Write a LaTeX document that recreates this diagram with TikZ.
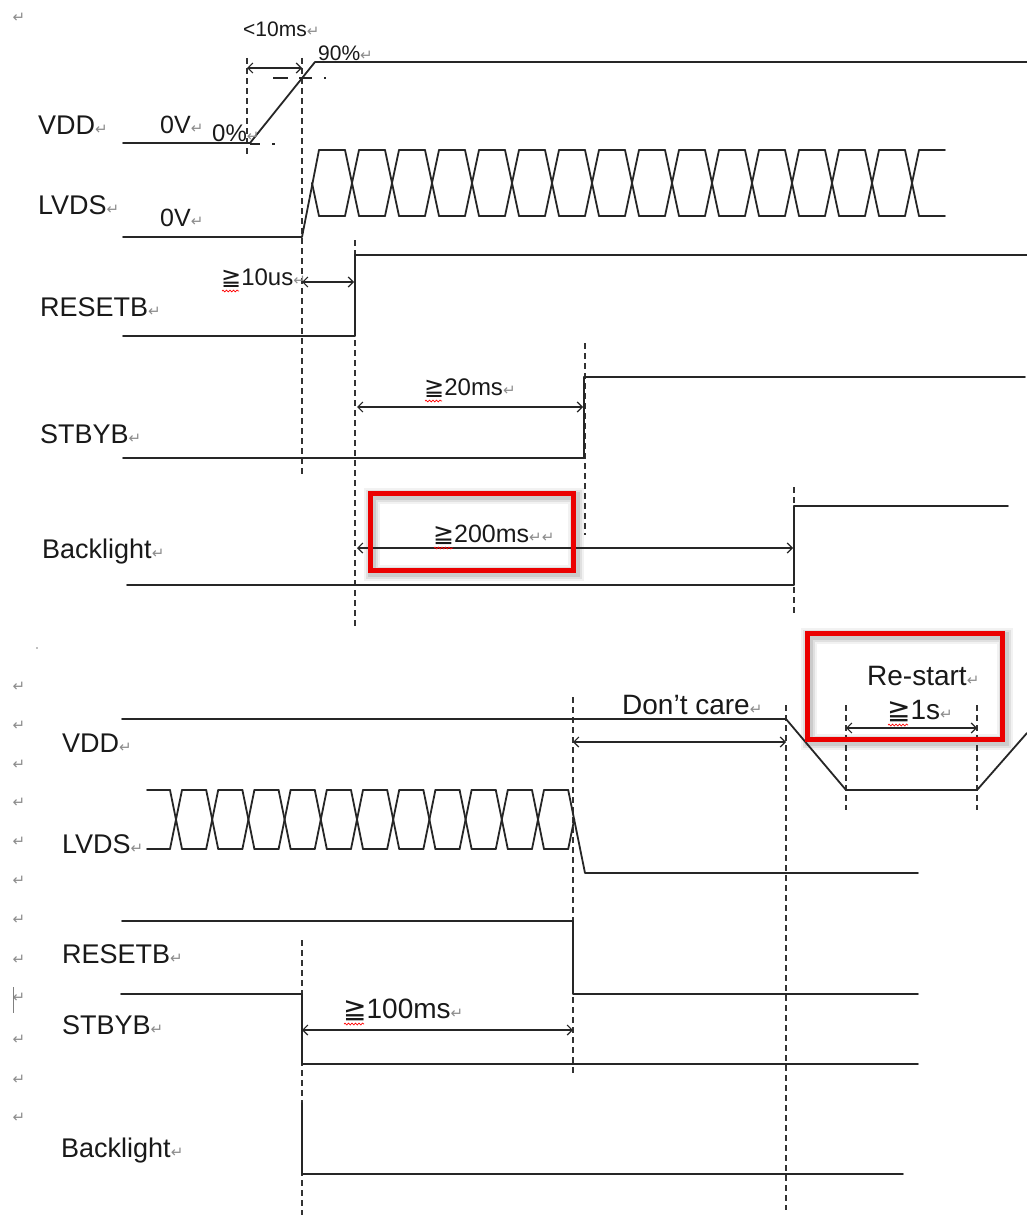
\documentclass[tikz,border=0pt]{standalone}
\usepackage{fontspec}
\setmainfont{Liberation Sans}
\newfontfamily\dvs{DejaVu Sans}
\usetikzlibrary{arrows.meta,decorations.pathmorphing,calc}
\newcommand\retm{{\dvs\fontsize{15}{15}\selectfont\color{black!45}↵}}
\newcommand\gesym{{\dvs ≧}}
\tikzset{
  sig/.style={line width=1.8pt, draw=black!85, line cap=round, line join=round},
  guide/.style={line width=1.4pt, draw=black!80, dash pattern=on 6pt off 4pt},
  dimarrow/.style={line width=1.2pt, draw=black!85, <->, >={Straight Barb[length=5pt,width=10pt,line width=1.2pt]}},
  lbl/.style={anchor=base west, inner sep=0pt, text=black!90, font=\fontsize{27}{30}\selectfont},
  sm/.style={anchor=base west, inner sep=0pt, text=black!90, font=\fontsize{21}{24}\selectfont},
  md/.style={anchor=base west, inner sep=0pt, text=black!90, font=\fontsize{24}{27}\selectfont},
  lg/.style={anchor=base west, inner sep=0pt, text=black!90, font=\fontsize{25}{28}\selectfont},
  xl/.style={anchor=base west, inner sep=0pt, text=black!90, font=\fontsize{28}{31}\selectfont},
  retmark/.style={inner sep=0pt, text=black!45, font=\dvs\fontsize{15}{15}\selectfont},
  redbox/.style={draw=red!92!black, line width=5pt},
  boxshadow/.style={draw=black, line width=#1},
  wavy/.style={draw=red, line width=0.7pt, decorate, decoration={snake, amplitude=0.9pt, segment length=3.5pt}},
}
\begin{document}
\begin{tikzpicture}[x=1pt,y=-1pt]
\fill[white] (0,0) rectangle (1027,1215);
\useasboundingbox (0,0) rectangle (1027,1215);

% ---------- shadows of the red boxes ----------
\foreach \w/\o in {16/0.05,12/0.07,8/0.09}{
  \draw[boxshadow=\w pt, opacity=\o] (372,496) rectangle (576,573);
  \draw[boxshadow=\w pt, opacity=\o] (809,636) rectangle (1005,742);
}

% ---------- paragraph marks ----------
\node[retmark] (r0) at (19,18) {↵};
\foreach \y [count=\i] in {687,726,765,803,842,881,920,960,998,1040,1080,1118}
  \node[retmark] (rc\i) at (19,\y) {↵};
\draw[black!50, line width=1pt] (13,987) -- (13,1013);
\fill[black!50] (37,648) circle (0.8);

% ================= TOP: power on =================
% guides
\draw[guide] (247,58) -- (247,155);
\draw[guide] (302,58) -- (302,475);
\draw[guide] (355,240) -- (355,627);
\draw[guide] (585,343) -- (585,535);
\draw[guide] (794,487) -- (794,615);

% VDD
\draw[sig] (123,143) -- (250,143) -- (315,62) -- (1027,62);
\draw[line width=2.4pt, black!85, dash pattern=on 15pt off 11pt on 13pt off 12pt on 2pt] (273,78) -- (327,78);
\draw[line width=2.4pt, black!85, dash pattern=on 10pt off 12pt on 3pt] (250,144) -- (276,144);

% LVDS
\draw[sig] (123,237) -- (302,237) -- (319,150);
\draw[sig] (312,183) -- (319,216);
\foreach \c in {312,352,...,872}{
  \draw[sig] (\c+7,150) -- (\c+33,150);
  \draw[sig] (\c+7,216) -- (\c+33,216);
}
\foreach \c in {352,392,...,912}{
  \draw[sig] (\c-7,150) -- (\c+7,216);
  \draw[sig] (\c-7,216) -- (\c+7,150);
}
\draw[sig] (919,150) -- (945,150);
\draw[sig] (919,216) -- (945,216);

% RESETB, STBYB, Backlight
\draw[sig] (123,336) -- (355,336) -- (355,255) -- (1027,255);
\draw[sig] (123,458) -- (584,458) -- (584,377) -- (1025,377);
\draw[sig] (127,585) -- (794,585) -- (794,506) -- (1008,506);

% dimension arrows
\coordinate (a1) at (247,68);  \coordinate (b1) at (302,68);
\coordinate (a2) at (302,282); \coordinate (b2) at (354,282);
\coordinate (a3) at (357,407); \coordinate (b3) at (583,407);
\coordinate (a4) at (357,548); \coordinate (b4) at (793,548);
\draw[dimarrow] (a1) -- (b1);
\draw[dimarrow] (a2) -- (b2);
\draw[dimarrow] (a3) -- (b3);
\draw[dimarrow] (a4) -- (b4);

% labels
\node[lbl] (vdd1) at (38,134) {VDD\retm};
\node[lg] (ov1) at (160,133) {0V\retm};
\node[md] (p0) at (212,141) {0\%\retm};
\node[sm] (t10) at (243,37) {<10ms\retm};
\node[sm] (p90) at (318,60) {90\%\retm};
\node[lbl] (lvds1) at (38,214) {LVDS\retm};
\node[lg] (ov2) at (160,226) {0V\retm};
\node[md] (us10) at (221,285) {\gesym10us\retm};
\node[lbl] (rst1) at (40,316) {RESETB\retm};
\node[md] (ms20) at (424,395) {\gesym20ms\retm};
\node[lbl] (stb1) at (40,443) {STBYB\retm};
\node[lg] (ms200) at (433,542) {\gesym200ms\retm\retm};
\node[lbl] (bl1) at (42,558) {Backlight\retm};

\draw[wavy] ($(us10.base west)+(1,6)$) -- +(17,0);
\draw[wavy] ($(ms20.base west)+(1,6)$) -- +(17,0);
\draw[wavy] ($(ms200.base west)+(1,6)$) -- +(19,0);

% ================= BOTTOM: power off =================
\draw[guide] (573,697) -- (573,1075);
\draw[guide] (786,705) -- (786,1210);
\draw[guide] (846,705) -- (846,810);
\draw[guide] (977,705) -- (977,810);
\draw[guide] (302,940) -- (302,1215);

% VDD
\draw[sig] (122,719) -- (786,719) -- (846,790) -- (977,790) -- (1027,733);

% LVDS
\draw[sig] (147,790) -- (170,790);
\draw[sig] (147,849) -- (170,849);
\foreach \k in {0,...,10}{
  \pgfmathsetmacro\c{176+36.2*\k}
  \draw[sig] (\c-6,790) -- (\c+6,849);
  \draw[sig] (\c-6,849) -- (\c+6,790);
  \draw[sig] (\c+6,790) -- (\c+30.2,790);
  \draw[sig] (\c+6,849) -- (\c+30.2,849);
}
\draw[sig] (568.2,790) -- (585,873) -- (918,873);
\draw[sig] (568.2,849) -- (574.3,819);

% RESETB, STBYB, Backlight
\draw[sig] (122,921) -- (573,921) -- (573,994) -- (918,994);
\draw[sig] (121,994) -- (302,994) -- (302,1064) -- (918,1064);
\draw[sig] (302,1103) -- (302,1174) -- (903,1174);

% dimension arrows
\coordinate (a5) at (573,742); \coordinate (b5) at (786,742);
\coordinate (a6) at (846,728); \coordinate (b6) at (977,728);
\coordinate (a7) at (302,1030); \coordinate (b7) at (573,1030);
\draw[dimarrow] (a5) -- (b5);
\draw[dimarrow] (a6) -- (b6);
\draw[dimarrow] (a7) -- (b7);

% labels
\node[xl] (dc) at (622,714) {Don’t care\retm};
\node[xl] (rs) at (867,685) {Re-start\retm};
\node[xl] (s1) at (887,719) {\gesym1s\retm};
\node[lbl] (vdd2) at (62,752) {VDD\retm};
\node[lbl] (lvds2) at (62,853) {LVDS\retm};
\node[lbl] (rst2) at (62,963) {RESETB\retm};
\node[lbl] (stb2) at (62,1034) {STBYB\retm};
\node[xl] (ms100) at (343,1018) {\gesym100ms\retm};
\node[lbl] (bl2) at (61,1157) {Backlight\retm};

\draw[wavy] ($(s1.base west)+(1,6)$) -- +(20,0);
\draw[wavy] ($(ms100.base west)+(1,6)$) -- +(20,0);

% ---------- red boxes ----------
\draw[redbox] (370,493) rectangle (573,570);
\draw[redbox] (807,633) rectangle (1002,739);
\end{tikzpicture}
\end{document}
